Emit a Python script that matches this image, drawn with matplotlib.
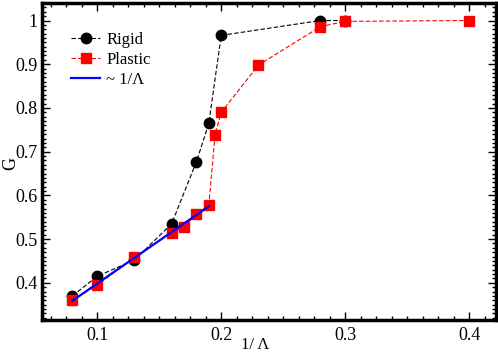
import matplotlib
matplotlib.use("Agg")
import matplotlib.pyplot as plt
from matplotlib.ticker import MultipleLocator

# data
rigid_x = [0.08, 0.10, 0.13, 0.16, 0.18, 0.19, 0.20, 0.28, 0.30]
rigid_g = [0.370, 0.415, 0.452, 0.535, 0.677, 0.765, 0.966, 1.000, 1.000]

plastic_x = [0.08, 0.10, 0.13, 0.16, 0.17, 0.18, 0.19, 0.195, 0.20, 0.23, 0.28, 0.30, 0.40]
plastic_g = [0.360, 0.395, 0.458, 0.515, 0.527, 0.558, 0.578, 0.738, 0.790, 0.898, 0.986, 0.998, 1.000]

fit_x = [0.08, 0.19]
fit_g = [0.359, 0.575]

plt.rcParams['font.family'] = ['Liberation Serif', 'DejaVu Serif']

fig = plt.figure(figsize=(4.98, 3.55), dpi=100)
ax = fig.add_axes([0.0843, 0.0986, 0.9117, 0.8929])

ax.plot(rigid_x, rigid_g, ls='--', dashes=(4, 2), color='black', lw=0.8,
        marker='o', ms=7.5, mfc='black', mec='black', label='Rigid', zorder=3)
ax.plot(plastic_x, plastic_g, ls='--', dashes=(4, 2), color='red', lw=0.8,
        marker='s', ms=7, mfc='red', mec='red', label='Plastic', zorder=4)
ax.plot(fit_x, fit_g, color='blue', lw=1.6, label='~ 1/\u039b', zorder=5)

ax.set_xlim(0.0555, 0.4215)
ax.set_ylim(0.315, 1.04)
ax.xaxis.set_minor_locator(MultipleLocator(0.0125))
ax.yaxis.set_minor_locator(MultipleLocator(0.01))
ax.set_xticks([0.1, 0.2, 0.3, 0.4])
ax.set_xticklabels(['0.1', '0.2', '0.3', '0.4'])
ax.set_yticks([0.4, 0.5, 0.6, 0.7, 0.8, 0.9, 1.0])
ax.set_yticklabels(['0.4', '0.5', '0.6', '0.7', '0.8', '0.9', '1'])

ax.tick_params(which='both', direction='in', top=True, right=True, labelsize=13, width=1)
ax.tick_params(which='major', length=6)
ax.tick_params(axis='y', which='major', pad=3)
ax.tick_params(axis='x', which='major', pad=5)
ax.tick_params(which='minor', length=3)
for s in ax.spines.values():
    s.set_linewidth(2.5)

# axis labels sit tight against the tick labels, as in the reference
fig.text(0.512, 0.005, '1/ \u039b', fontsize=12, ha='center', va='bottom')
fig.text(0.004, 0.54, 'G', fontsize=13, rotation=90, ha='left', va='center')

ax.legend(loc='upper left', bbox_to_anchor=(0.05, 0.93), frameon=False, fontsize=12,
          handlelength=1.7, handletextpad=0.4, labelspacing=0.25, borderaxespad=0)

fig.savefig('out.png', dpi=100)
